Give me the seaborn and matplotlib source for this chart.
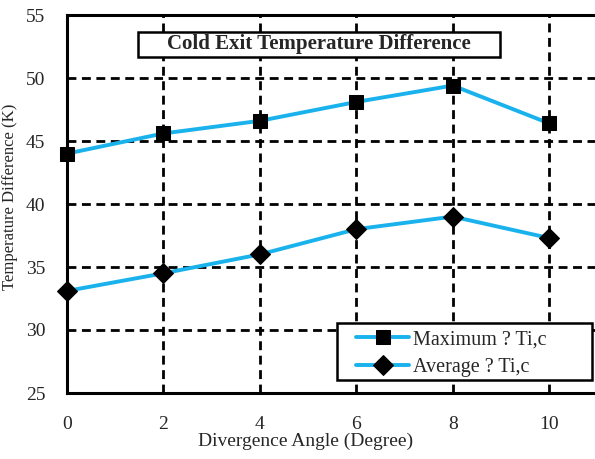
import matplotlib
matplotlib.use("Agg")
import matplotlib.pyplot as plt
import matplotlib.patches as mpatches
import seaborn as sns
import pandas as pd

angles = [0, 2, 4, 6, 8, 10]
maximum_dt = [44.0, 45.6, 46.6, 48.1, 49.4, 46.4]
average_dt = [33.1, 34.5, 36.0, 38.0, 39.0, 37.3]
series_names = ["Maximum ? Ti,c", "Average ? Ti,c"]
x_ticks = [0, 2, 4, 6, 8, 10]
y_ticks = [25, 30, 35, 40, 45, 50, 55]

sns.set_theme(style="white")
plt.rcParams['font.family'] = ['Liberation Serif', 'DejaVu Serif']

df = pd.DataFrame({
    "angle": angles * 2,
    "dt": maximum_dt + average_dt,
    "series": [series_names[0]] * len(angles) + [series_names[1]] * len(angles),
})

fig = plt.figure(figsize=(5.95, 4.59), dpi=100)
ax = fig.add_axes([67/595, 66/459, 1 - 67/595, (393 - 15)/459])

blue = "#19B2EC"
sns.lineplot(data=df, x="angle", y="dt", hue="series", style="series",
             markers={series_names[0]: "s", series_names[1]: "D"},
             dashes=False, palette=[blue, blue], linewidth=2.8,
             markersize=9.5, markerfacecolor="black", markeredgecolor="black",
             ax=ax, zorder=5, legend=True, clip_on=False)
for line in ax.get_lines():
    if line.get_marker() == "D":
        line.set_markersize(10.5)

ax.set_xlim(0, 10.95)
ax.set_ylim(25, 55)
ax.set_xticks(x_ticks)
ax.set_yticks(y_ticks)
ax.set_xticklabels([str(v) for v in x_ticks], fontsize=14)
ax.set_yticklabels([str(v) for v in y_ticks], fontsize=14)

ax.grid(True, color="black", linestyle=(0, (3.2, 2.0)), linewidth=2.0)
ax.set_axisbelow(True)

for side in ["left", "bottom", "top"]:
    ax.spines[side].set_color("black")
    ax.spines[side].set_linewidth(2.2)
ax.spines["right"].set_visible(False)

ax.tick_params(axis="y", direction="out", length=6.5, width=2.2, color="black", pad=9)
ax.tick_params(axis="x", direction="inout", length=9, width=2.2, color="black", pad=12)

ax.set_xlabel("")
ax.set_ylabel("")
fig.text(306/595, 1 - 441/459, "Divergence Angle (Degree)", fontsize=14,
         ha="center", va="center")
fig.text(10/595, 1 - 197/459, "Temperature Difference (K)", rotation=90,
         fontsize=12, ha="center", va="center")

# title box
ax.add_patch(mpatches.Rectangle((0.134, 0.889), 0.686, 0.066, transform=ax.transAxes,
                                facecolor="white", edgecolor="black", linewidth=1.8,
                                zorder=10))
ax.text(0.477, 0.922, "Cold Exit Temperature Difference", transform=ax.transAxes,
        fontsize=15, fontweight="bold", ha="center", va="center", zorder=11)

# legend box
ax.add_patch(mpatches.Rectangle((0.511, 0.034), 0.483, 0.151, transform=ax.transAxes,
                                facecolor="white", edgecolor="black", linewidth=1.8,
                                zorder=18, clip_on=False))
leg = ax.legend(loc="center left", bbox_to_anchor=(0.548, 0.1045), fontsize=14.5,
                frameon=False, handlelength=2.6, borderpad=0, labelspacing=0.4,
                borderaxespad=0, handletextpad=0.2)
leg.set_title(None)
leg.set_zorder(20)
for h in leg.legend_handles:
    h.set_linewidth(2.8)

fig.savefig("out.png", dpi=100)
